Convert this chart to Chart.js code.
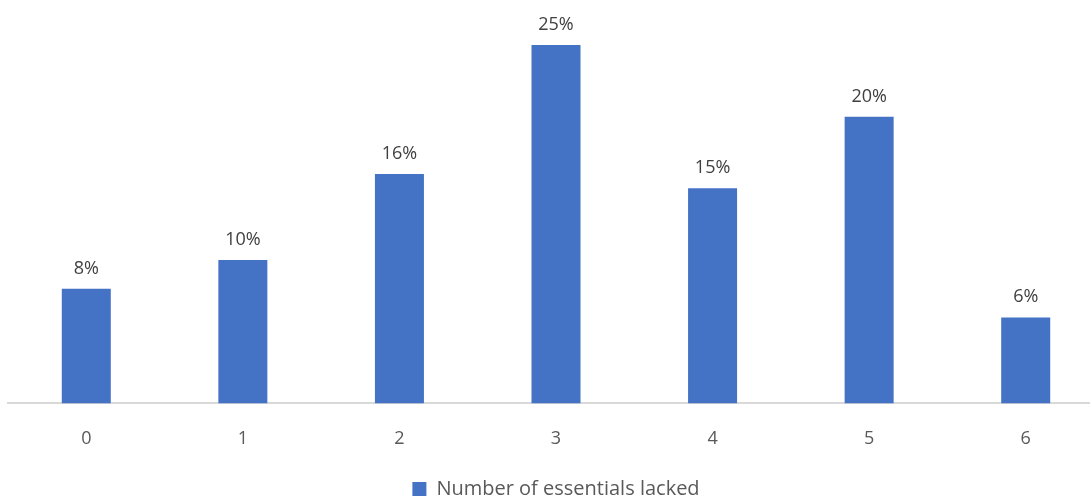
<!DOCTYPE html>
<html>
<head>
<meta charset="utf-8">
<script src="https://cdn.jsdelivr.net/npm/chart.js@4.4.1/dist/chart.umd.min.js"></script>
<style>
  html, body { margin: 0; padding: 0; background: #fff; overflow: hidden; }
  #wrap { width: 1104px; height: 502px; position: relative; }
</style>
</head>
<body>
<div id="wrap"><canvas id="barChart"></canvas></div>
<script>
// chart data
const categories = ["0", "1", "2", "3", "4", "5", "6"];
const shares = [8, 10, 16, 25, 15, 20, 6];
const seriesName = "Number of essentials lacked";

const FONT = "'Open Sans'";

// draws the % labels above each bar
const valueLabels = {
  id: "valueLabels",
  afterDatasetsDraw(chart) {
    const c = chart.ctx;
    const meta = chart.getDatasetMeta(0);
    c.save();
    c.font = "18px " + FONT;
    c.fillStyle = "#404040";
    c.textAlign = "center";
    c.textBaseline = "alphabetic";
    meta.data.forEach((bar, i) => {
      c.fillText(shares[i] + "%", bar.x, bar.y - 15);
    });
    c.restore();
  }
};

const ctx = document.getElementById("barChart").getContext("2d");
const chart = new Chart(ctx, {
  type: "bar",
  data: {
    labels: categories,
    datasets: [
      {
        label: seriesName,
        data: shares,
        backgroundColor: "#4472c4",
        borderWidth: 0,
        categoryPercentage: 1,
        barPercentage: 0.313,
      },
    ],
  },
  options: {
    responsive: true,
    maintainAspectRatio: false,
    animation: false,
    layout: { padding: { left: 8, right: 0, top: 2, bottom: -7 } },
    plugins: {
      tooltip: { enabled: false },
      legend: {
        position: "bottom",
        labels: {
          color: "#595959",
          font: { family: FONT, size: 20 },
          boxWidth: 14,
          boxHeight: 14,
          padding: 2,
        },
      },
    },
    scales: {
      x: {
        grid: { display: false, drawTicks: false },
        border: { display: true, color: "#d9d9d9", width: 2 },
        ticks: { color: "#595959", font: { family: FONT, size: 18 }, padding: 25 },
        afterFit: (s) => { s.height += 2; },
      },
      y: {
        display: false,
        min: 0,
        max: 28,
      },
    },
  },
  plugins: [valueLabels],
});
</script>
</body>
</html>
